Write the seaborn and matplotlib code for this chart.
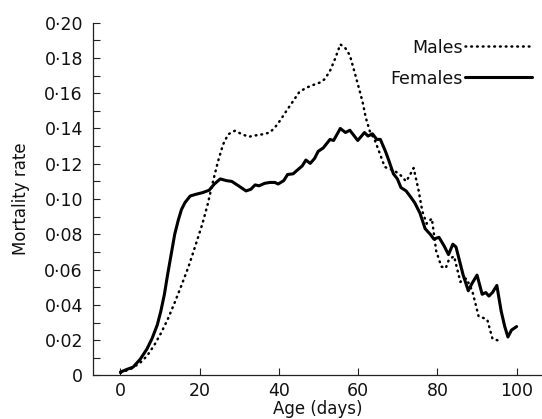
import matplotlib
matplotlib.use("Agg")
import matplotlib.pyplot as plt
import seaborn as sns
import pandas as pd
from matplotlib.ticker import MultipleLocator

# ---------------- data ----------------
female_age = [0, 1.5, 3.2, 5.0, 6.7, 8.0, 9.3, 10.2, 11.1, 11.9, 12.8, 13.7, 14.6,
              15.4, 16.3, 17.6, 18.9, 20.7, 22.4, 23.7, 25.2, 26.8, 28.1, 29.8,
              31.7, 32.9, 34.0, 35.0, 36.4, 37.7, 39.0, 39.8, 41.2, 42.2, 43.6,
              44.6, 45.9, 46.8, 47.9, 49.0, 49.9, 51.2, 52.9, 53.8, 55.5, 56.8,
              57.9, 59.9, 61.6, 62.5, 63.6, 64.7, 65.6, 66.9, 67.7, 68.9, 69.9,
              70.8, 72.1, 73.4, 74.3, 75.6, 76.9, 78.2, 79.1, 80.4, 81.7, 82.8,
              83.9, 84.7, 86.5, 87.8, 88.7, 90.0, 91.3, 92.2, 93.0, 93.9, 95.0,
              96.1, 97.0, 97.8, 98.7, 100.0]
female_rate = [0.0019, 0.0033, 0.0047, 0.0092, 0.015, 0.021, 0.0286, 0.0364, 0.046,
               0.057, 0.0685, 0.080, 0.088, 0.094, 0.098, 0.1017, 0.1026, 0.1036,
               0.105, 0.1085, 0.1114, 0.1104, 0.110, 0.1075, 0.1046, 0.1055, 0.108,
               0.1075, 0.1089, 0.1094, 0.1094, 0.1085, 0.1104, 0.1139, 0.1143,
               0.1163, 0.1188, 0.1221, 0.1202, 0.123, 0.127, 0.129, 0.1338, 0.1332,
               0.140, 0.1377, 0.139, 0.1332, 0.1377, 0.1357, 0.137, 0.1338, 0.1338,
               0.127, 0.1221, 0.1143, 0.1114, 0.1065, 0.1046, 0.1007, 0.0978, 0.092,
               0.0832, 0.080, 0.0773, 0.0783, 0.0734, 0.0685, 0.0744, 0.0728,
               0.0569, 0.048, 0.052, 0.0569, 0.046, 0.047, 0.045, 0.047, 0.051,
               0.0364, 0.0277, 0.0218, 0.0257, 0.0277]

male_age = [0, 2.8, 5.0, 6.7, 8.5, 10.2, 11.9, 13.7, 15.4, 17.2, 18.9, 20.7, 22.0,
            23.3, 24.6, 25.9, 27.2, 28.9, 30.7, 32.4, 34.2, 35.9, 37.7, 39.0, 40.3,
            42.0, 43.8, 45.1, 46.8, 48.6, 50.3, 51.6, 52.9, 54.2, 55.5, 56.8, 57.9,
            59.0, 60.3, 61.2, 61.9, 62.9, 64.3, 65.6, 66.7, 67.7, 69.0, 70.8, 72.1,
            73.0, 74.0, 75.2, 76.2, 77.3, 78.6, 79.7, 81.0, 82.1, 82.9, 84.2, 85.8,
            87.3, 88.8, 90.4, 91.7, 92.6, 93.9, 95.2, 96.1]
male_rate = [0.0014, 0.0039, 0.0072, 0.011, 0.017, 0.0238, 0.0316, 0.0413, 0.051,
             0.0617, 0.0734, 0.086, 0.0968, 0.1094, 0.1211, 0.1309, 0.1367, 0.1387,
             0.1367, 0.1353, 0.1361, 0.1367, 0.1377, 0.1406, 0.1445, 0.1503, 0.1562,
             0.1605, 0.163, 0.1646, 0.166, 0.168, 0.1727, 0.1796, 0.1877, 0.1854,
             0.1815, 0.1727, 0.162, 0.1542, 0.1464, 0.1387, 0.1328, 0.125, 0.1182,
             0.1172, 0.1163, 0.1133, 0.110, 0.1133, 0.1176, 0.1055, 0.093, 0.086,
             0.089, 0.0705, 0.0617, 0.0608, 0.0656, 0.0676, 0.053, 0.055, 0.048,
             0.0335, 0.0325, 0.0315, 0.0208, 0.0199, 0.0205]

x_ticks = [0, 20, 40, 60, 80, 100]
y_ticks = [0, 0.02, 0.04, 0.06, 0.08, 0.10, 0.12, 0.14, 0.16, 0.18, 0.20]
y_tick_labels = ["0", "0·02", "0·04", "0·06", "0·08", "0·10", "0·12",
                 "0·14", "0·16", "0·18", "0·20"]

# ---------------- figure ----------------
sns.set_style("ticks")
plt.rcParams["font.family"] = ["DejaVu Sans"]

fig = plt.figure(figsize=(5.42, 4.19), dpi=100)
ax = fig.add_axes([0.171, 0.104, 0.829, 0.842])

males = pd.DataFrame({"age": male_age, "rate": male_rate})
females = pd.DataFrame({"age": female_age, "rate": female_rate})

sns.lineplot(data=males, x="age", y="rate", ax=ax, color="black", sort=False,
             linewidth=1.8, linestyle=(0, (0.3, 2.0)), dash_capstyle="round",
             label="Males")
sns.lineplot(data=females, x="age", y="rate", ax=ax, color="black", sort=False,
             linewidth=2.2, label="Females")

ax.set_xlim(-7.0, 106.4)
ax.set_ylim(0, 0.20)
ax.set_xticks(x_ticks)
ax.set_xticklabels([str(t) for t in x_ticks])
ax.set_yticks(y_ticks)
ax.set_yticklabels(y_tick_labels)
ax.yaxis.set_minor_locator(MultipleLocator(0.01))

for s in ("top", "right"):
    ax.spines[s].set_visible(False)
for s in ("left", "bottom"):
    ax.spines[s].set_linewidth(0.9)
    ax.spines[s].set_color("#222222")

ax.tick_params(axis="both", which="both", direction="in", length=5.0,
               width=0.8, color="#222222", labelsize=12.5, labelcolor="#111111")
ax.tick_params(axis="y", pad=7)
ax.tick_params(axis="x", pad=4.5)

ax.set_xlabel("Age (days)", fontsize=12, color="#111111", labelpad=0)
ax.set_ylabel("Mortality rate", fontsize=12, color="#111111", labelpad=10)

leg = ax.legend(loc="upper right", bbox_to_anchor=(0.978, 0.955),
                frameon=False, markerfirst=False, fontsize=12.5,
                handlelength=3.85, handletextpad=0.15, labelspacing=0.75,
                borderpad=0, borderaxespad=0)
for t in leg.get_texts():
    t.set_color("#111111")

fig.savefig("out.png", dpi=100)
